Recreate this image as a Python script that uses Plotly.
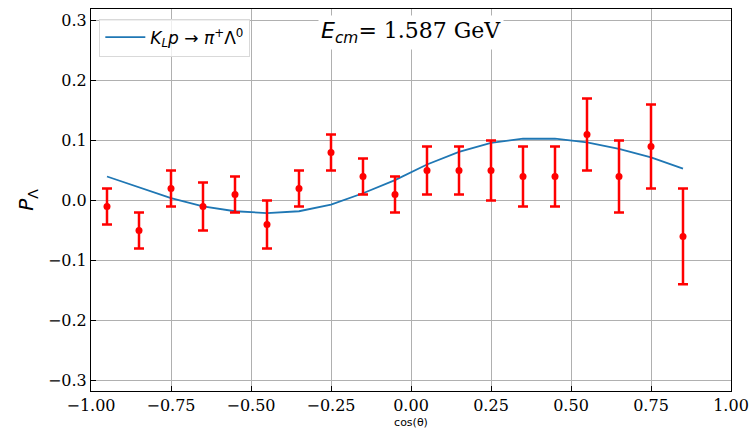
import plotly.graph_objects as go

# ---- data ----
cos_theta = [-0.95, -0.85, -0.75, -0.65, -0.55, -0.45, -0.35, -0.25, -0.15, -0.05,
             0.05, 0.15, 0.25, 0.35, 0.45, 0.55, 0.65, 0.75, 0.85]
p_data = [-0.01, -0.05, 0.02, -0.01, 0.01, -0.04, 0.02, 0.08, 0.04, 0.01,
          0.05, 0.05, 0.05, 0.04, 0.04, 0.11, 0.04, 0.09, -0.06]
p_err = [0.03, 0.03, 0.03, 0.04, 0.03, 0.04, 0.03, 0.03, 0.03, 0.03,
         0.04, 0.04, 0.05, 0.05, 0.05, 0.06, 0.06, 0.07, 0.08]
p_model = [0.040, 0.022, 0.004, -0.010, -0.018, -0.021, -0.018, -0.007, 0.012, 0.034,
           0.060, 0.081, 0.096, 0.103, 0.103, 0.097, 0.086, 0.072, 0.053]
x_ticks = [-1.0, -0.75, -0.5, -0.25, 0.0, 0.25, 0.5, 0.75, 1.0]
y_ticks = [-0.3, -0.2, -0.1, 0.0, 0.1, 0.2, 0.3]

SANS = "DejaVu Sans"
SERIF = "DejaVu Serif"

fig = go.Figure()
fig.add_trace(go.Scatter(
    x=cos_theta, y=p_model, mode="lines",
    line=dict(color="#1f77b4", width=1.8),
    name=("<span style='font-family:DejaVu Sans'><i>K</i><sub><i>L</i></sub><i>p</i> → "
          "<i>π</i><sup>+</sup>Λ<sup>0</sup></span>"),
    showlegend=True,
))
fig.add_trace(go.Scatter(
    x=cos_theta, y=p_data, mode="markers",
    marker=dict(color="red", size=7),
    error_y=dict(type="data", array=p_err, color="red", thickness=2.5, width=5),
    showlegend=False,
))

fig.add_annotation(
    x=0.0, y=0.281, xref="x", yref="y",
    text=("<span style='font-family:DejaVu Sans'><i>E</i><sub><i>cm</i></sub></span>"
          "= 1.587 GeV"),
    showarrow=False, bgcolor="white",
    font=dict(family=SERIF, size=22, color="black"),
    borderpad=2,
)

fig.update_layout(
    width=750, height=429,
    margin=dict(l=91, r=19, t=9, b=38),
    paper_bgcolor="white", plot_bgcolor="white",
    font=dict(family=SERIF, color="black"),
    legend=dict(
        x=0.013, y=0.975, xanchor="left", yanchor="top",
        bgcolor="rgba(255,255,255,0.8)", bordercolor="#d9d9d9", borderwidth=1,
        font=dict(family=SANS, size=17, color="black"),
        itemwidth=40,
    ),
    xaxis=dict(
        range=[-1.0, 1.0], tickvals=x_ticks, tickformat=".2f",
        showgrid=True, gridcolor="#b0b0b0", gridwidth=1,
        showline=True, linecolor="black", linewidth=1, mirror=True,
        ticks="inside", ticklen=5, tickcolor="black",
        tickfont=dict(family=SERIF, size=16, color="black"),
        zeroline=False, automargin=False,
        title=dict(text="cos(θ)", font=dict(family=SANS, size=11, color="black"), standoff=4),
    ),
    yaxis=dict(
        range=[-0.318, 0.3195], tickvals=y_ticks, tickformat=".1f",
        showgrid=True, gridcolor="#b0b0b0", gridwidth=1,
        showline=True, linecolor="black", linewidth=1, mirror=True,
        ticks="inside", ticklen=5, tickcolor="black",
        tickfont=dict(family=SERIF, size=16, color="black"),
        zeroline=False, automargin=False,
        title=dict(text="<i>P</i><sub>Λ</sub>", font=dict(family=SANS, size=20, color="black"), standoff=8),
    ),
)

fig.write_html("out.html")
